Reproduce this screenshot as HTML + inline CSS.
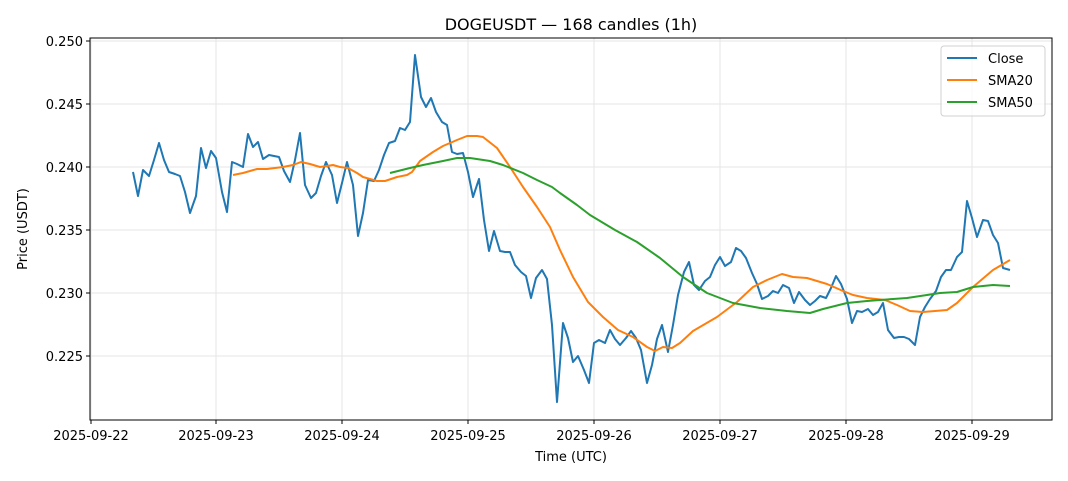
<!DOCTYPE html>
<html><head><meta charset="utf-8"><style>body{margin:0;background:#fff}svg{display:block;font-family:"DejaVu Sans","Liberation Sans",sans-serif}</style></head><body>
<svg width="1068" height="481" viewBox="0 0 1068 481" xmlns="http://www.w3.org/2000/svg">
<rect width="1068" height="481" fill="#fff"/>
<g stroke="#e6e6e6" stroke-width="1">
<line x1="91" y1="38" x2="91" y2="420"/><line x1="216" y1="38" x2="216" y2="420"/><line x1="342" y1="38" x2="342" y2="420"/><line x1="468" y1="38" x2="468" y2="420"/><line x1="594" y1="38" x2="594" y2="420"/><line x1="720" y1="38" x2="720" y2="420"/><line x1="846" y1="38" x2="846" y2="420"/><line x1="972" y1="38" x2="972" y2="420"/>
<line x1="90" y1="356" x2="1052" y2="356"/><line x1="90" y1="293" x2="1052" y2="293"/><line x1="90" y1="230" x2="1052" y2="230"/><line x1="90" y1="167" x2="1052" y2="167"/><line x1="90" y1="104" x2="1052" y2="104"/><line x1="90" y1="41" x2="1052" y2="41"/>
</g>
<g fill="none" stroke-width="2" stroke-linejoin="round">
<polyline stroke="#1f77b4" points="133,172 138,196 143,170 149,176 154,160 159,143 164,160 169,172 175,174 180,176 185,192 190,213 196,196 201,148 206,168 211,151 216,158 222,192 227,212 232,162 237,164 243,167 248,134 253,147 258,142 263,159 269,155 274,156 279,157 284,171 290,182 295,160 300,133 305,185 311,198 316,193 321,176 326,162 332,175 337,203 342,183 347,162 353,185 358,236 363,213 368,180 374,181 379,170 384,155 389,143 395,141 400,128 405,130 410,122 415,55 421,97 426,107 431,98 436,112 442,122 447,125 452,152 457,154 463,153 468,172 473,197 479,179 484,220 489,251 494,231 500,251 505,252 510,252 515,265 521,272 526,276 531,298 536,278 542,270 547,279 552,325 557,402 563,323 568,338 573,362 578,356 584,370 589,383 594,343 599,340 605,343 610,330 615,339 620,345 626,338 631,331 636,338 641,350 647,383 652,365 657,339 662,325 668,352 673,325 678,295 684,272 689,262 694,285 699,290 705,281 710,277 715,265 720,257 725,266 731,262 736,248 741,251 746,258 752,273 757,284 762,299 768,296 773,291 778,293 783,285 789,288 794,303 799,292 805,300 810,305 815,301 820,296 826,298 831,288 836,276 841,284 847,299 852,323 857,311 862,312 868,309 873,315 878,312 883,303 888,330 894,338 899,337 904,337 909,339 915,345 920,317 925,307 930,299 936,291 941,277 946,270 951,270 957,257 962,252 967,201 972,218 977,237 983,220 988,221 993,235 998,243 1003,268 1010,270"/>
<polyline stroke="#ff7f0e" points="233,175 243,173 257,169 267,169 283,167 293,165 301,162 310,164 320,167 327,166 333,165 340,167 348,168 357,173 363,177 377,181 385,181 397,177 407,175 412,172 420,161 433,152 443,146 450,143 457,140 467,136 477,136 483,137 497,148 510,167 523,187 537,207 550,227 560,250 573,277 588,302 603,317 618,330 633,337 647,347 655,351 663,347 672,348 680,343 693,331 717,317 737,302 753,287 767,280 782,274 793,277 807,278 827,284 843,291 853,295 867,298 885,300 897,305 910,311 923,312 947,310 957,303 973,287 993,270 1010,260"/>
<polyline stroke="#2ca02c" points="390,173 410,168 423,165 443,161 457,158 470,158 490,161 503,165 523,173 537,180 552,187 560,193 577,205 590,215 615,230 637,242 660,258 683,277 707,293 733,303 760,308 787,311 810,313 823,309 847,303 867,301 893,299 907,298 927,295 940,293 957,292 973,287 993,285 1010,286"/>
</g>
<rect x="90" y="38" width="962" height="382" fill="none" stroke="#000" stroke-width="1"/>
<g stroke="#000"><line x1="91" y1="420" x2="91" y2="424"/><line x1="216" y1="420" x2="216" y2="424"/><line x1="342" y1="420" x2="342" y2="424"/><line x1="468" y1="420" x2="468" y2="424"/><line x1="594" y1="420" x2="594" y2="424"/><line x1="720" y1="420" x2="720" y2="424"/><line x1="846" y1="420" x2="846" y2="424"/><line x1="972" y1="420" x2="972" y2="424"/>
<line x1="86" y1="356" x2="90" y2="356"/><line x1="86" y1="293" x2="90" y2="293"/><line x1="86" y1="230" x2="90" y2="230"/><line x1="86" y1="167" x2="90" y2="167"/><line x1="86" y1="104" x2="90" y2="104"/><line x1="86" y1="41" x2="90" y2="41"/></g>
<g font-size="13" fill="#000" text-anchor="middle">
<text x="91" y="440">2025-09-22</text><text x="216" y="440">2025-09-23</text><text x="342" y="440">2025-09-24</text><text x="468" y="440">2025-09-25</text><text x="594" y="440">2025-09-26</text><text x="720" y="440">2025-09-27</text><text x="846" y="440">2025-09-28</text><text x="972" y="440">2025-09-29</text>
</g>
<g font-size="13" fill="#000" text-anchor="end">
<text x="83" y="361">0.225</text><text x="83" y="298">0.230</text><text x="83" y="235">0.235</text><text x="83" y="172">0.240</text><text x="83" y="109">0.245</text><text x="83" y="46">0.250</text>
</g>
<text x="571" y="461" font-size="13" text-anchor="middle">Time (UTC)</text>
<text transform="translate(27,229) rotate(-90)" font-size="13" text-anchor="middle">Price (USDT)</text>
<text x="571" y="30" font-size="16" text-anchor="middle">DOGEUSDT — 168 candles (1h)</text>
<rect x="941" y="46" width="104" height="70" rx="3" fill="#fff" fill-opacity="0.8" stroke="#d0d0d0"/>
<line x1="947" y1="58" x2="977" y2="58" stroke="#1f77b4" stroke-width="2"/>
<line x1="947" y1="80" x2="977" y2="80" stroke="#ff7f0e" stroke-width="2"/>
<line x1="947" y1="102" x2="977" y2="102" stroke="#2ca02c" stroke-width="2"/>
<g font-size="13"><text x="988" y="63">Close</text><text x="988" y="85">SMA20</text><text x="988" y="107">SMA50</text></g>
</svg>
</body></html>
